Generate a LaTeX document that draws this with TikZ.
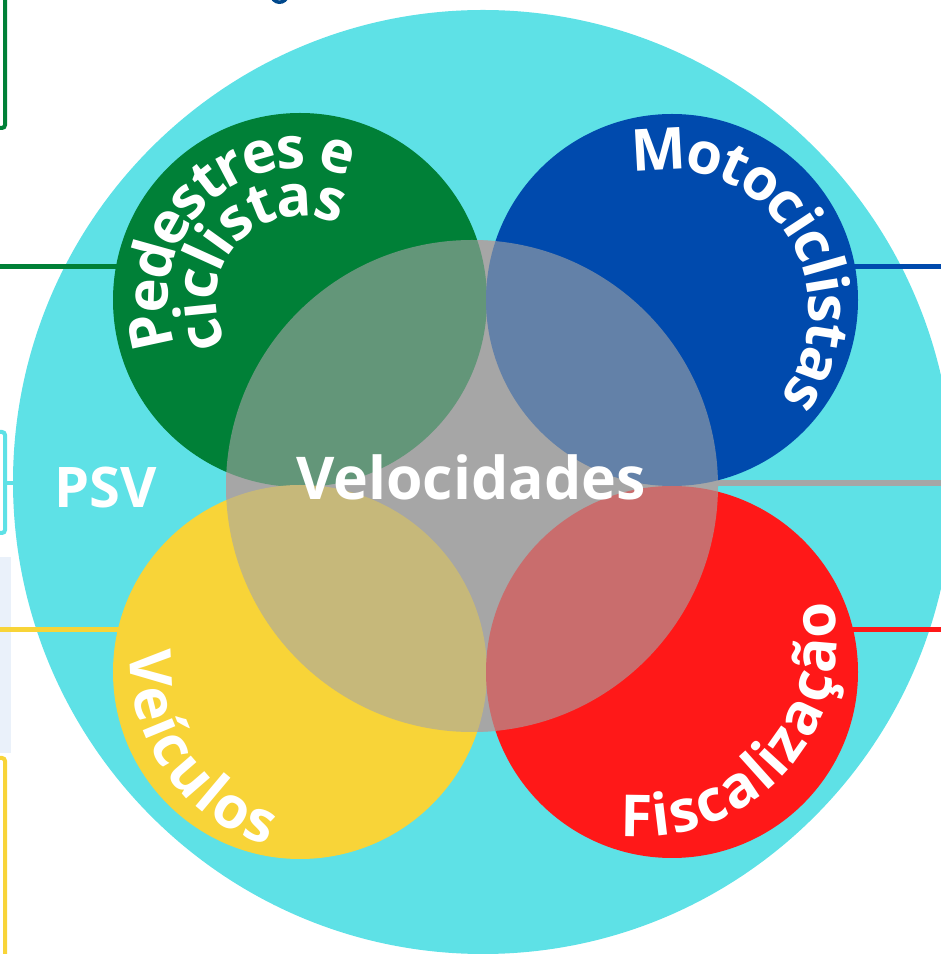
\documentclass[tikz,border=0pt]{standalone}
\usepackage{fontspec}
\setmainfont{Open Sans}
\usetikzlibrary{decorations.text, shapes.geometric}

\definecolor{psvciano}{RGB}{94,225,230}
\definecolor{pedverde}{RGB}{0,128,55}
\definecolor{motoazul}{RGB}{0,74,173}
\definecolor{tituloazul}{RGB}{0,72,140}
\definecolor{veicamarelo}{RGB}{248,212,56}
\definecolor{fiscvermelho}{RGB}{255,24,24}
\definecolor{velcinza}{RGB}{166,166,166}
\definecolor{fundoazul}{RGB}{234,241,250}

\newcommand\rotuloarco{\fontsize{58}{58}\selectfont\bfseries\color{white}}

\tikzset{
  zona/.style={circle, inner sep=0pt, outer sep=0pt},
  ligacao/.style={line width=5pt},
  rotulo/.style={text=white, font=\bfseries},
}

\begin{document}
\begin{tikzpicture}[x=1pt, y=1pt]
	\useasboundingbox (0,0) rectangle (941,954);

	% bits of the neighbouring boxes
	\draw[pedverde, line width=4pt, rounded corners=3pt] (-60,826) rectangle (5,1010);
	\draw[psvciano, line width=4pt, rounded corners=3pt] (-60,421) rectangle (5,522);
	\fill[fundoazul] (-5,201) rectangle (11,397);
	\draw[veicamarelo, line width=4pt, rounded corners=3pt] (-60,-60) rectangle (5,196);
	\draw[tituloazul, line width=3.5pt] (272,957) arc[start angle=200, end angle=330, radius=8];

	% outer PSV disc
	\node[inner sep=0pt, outer sep=0pt, fill=psvciano, ellipse, minimum width=940pt, minimum height=944pt] (psv) at (483,472) {};
	\coordinate (psvlink) at (5,471);
	\draw[psvciano, line width=4pt] (psvlink) -- ++(10,0);

	% connectors, drawn below the circles
	\coordinate (pedlink) at (0,687);
	\coordinate (motolink) at (941,687);
	\coordinate (vellink) at (941,471);
	\coordinate (veiclink) at (0,324);
	\coordinate (fisclink) at (941,324);
	\draw[ligacao, pedverde] (pedlink) -- ++(200,0);
	\draw[ligacao, motoazul] (motolink) -- ++(-200,0);
	\draw[ligacao, line width=6pt, velcinza] (vellink) -- ++(-240,0);
	\draw[ligacao, veicamarelo] (veiclink) -- ++(200,0);
	\draw[ligacao, fiscvermelho] (fisclink) -- ++(-200,0);

	% the four groups
	\node[zona, fill=velcinza, minimum size=492pt] (velocidades) at (472,468) {};
	\node[zona, fill=pedverde, minimum size=374pt] (pedestres) at (300,654) {};
	\node[zona, fill=motoazul, minimum size=372pt] (motos) at (672,654) {};
	\node[zona, fill=veicamarelo, minimum size=374pt] (veiculos) at (300,282) {};
	\node[zona, fill=fiscvermelho, minimum size=372pt] (fiscal) at (672,282) {};
	\fill[velcinza, opacity=0.6] (velocidades.center) circle[radius=246];

	% labels
	\node[rotulo, font=\fontsize{59}{59}\selectfont\bfseries, anchor=base] (veltexto) at (471,454) {Velocidades};
	\node[rotulo, font=\fontsize{56}{56}\selectfont\bfseries, anchor=base] (psvtexto) at (106,446) {PSV};

	\path[decorate, decoration={text along path, text align=center, raise=-15pt,
		text={|\rotuloarco|Pedestres e}}]
		([shift={(252:147)}]pedestres.center) arc[start angle=252, end angle=16, radius=147];
	\path[decorate, decoration={text along path, text align=center, raise=-6pt,
		text={|\rotuloarco|ciclistas}}]
		([shift={(257:90)}]pedestres.center) arc[start angle=257, end angle=17, radius=90];
	\coordinate (motoarco) at (668,643);
	\path[decorate, decoration={text along path, text align=center, raise=-15pt,
		text={|\rotuloarco|Motociclistas}}]
		([shift={(130:156)}]motoarco) arc[start angle=130, end angle=-64, radius=156];
	\coordinate (veicarco) at (323,293);
	\path[decorate, decoration={text along path, text align=center, raise=-15pt,
		text={|\rotuloarco|Veículos}}]
		([shift={(150:178)}]veicarco) arc[start angle=150, end angle=280, radius=178];
	\coordinate (fiscarco) at (640,314);
	\path[decorate, decoration={text along path, text align=center, raise=-15pt,
		text={|\rotuloarco|Fiscalização}}]
		([shift={(240:182)}]fiscarco) arc[start angle=240, end angle=396, radius=182];
\end{tikzpicture}
\end{document}
